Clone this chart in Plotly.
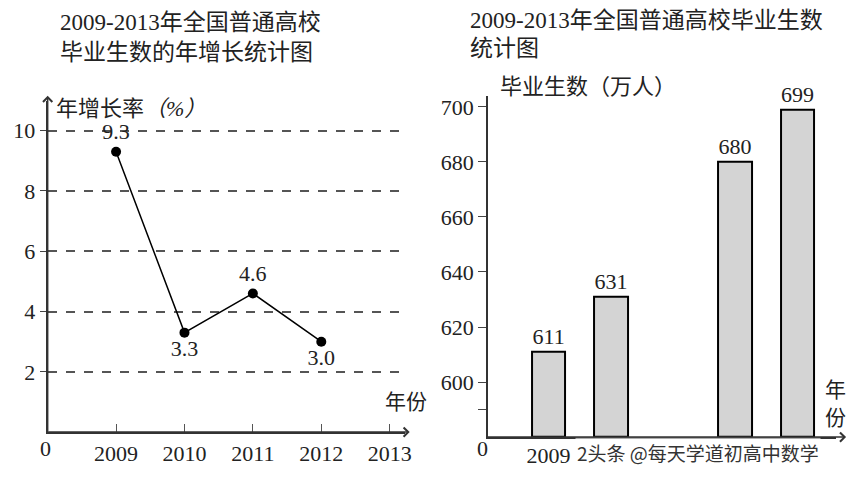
import plotly.graph_objects as go

# left chart: annual growth rate
rate_years = [2009, 2010, 2011, 2012]
rate_values = [9.3, 3.3, 4.6, 3.0]
rate_labels = ["9.3", "3.3", "4.6", "3.0"]
rate_label_pos = ["top center", "bottom center", "top center", "bottom center"]
left_ticks = [2009, 2010, 2011, 2012, 2013]
left_yticks = [2, 4, 6, 8, 10]

# right chart: graduates (10k), axis broken at 580
grad_years = [2009, 2010, 2012, 2013]
grad_values = [611, 631, 680, 699]
grad_base = 580
right_yticks = [590, 600, 620, 640, 660, 680, 700]
right_yticktext = ["", "600", "620", "640", "660", "680", "700"]

FONT = "Liberation Serif, Noto Sans CJK SC"
W, H = 856, 478
DY = 8  # rendering offset correction


def px(x):
    return x / W


def py(y):
    return (H - (y - DY)) / H


fig = go.Figure()

fig.add_trace(go.Scatter(
    x=rate_years, y=rate_values, mode="lines+markers+text",
    text=rate_labels, textposition=rate_label_pos,
    textfont=dict(size=22, color="#222", family=FONT),
    line=dict(color="black", width=1.5),
    marker=dict(color="black", size=10),
    xaxis="x", yaxis="y", showlegend=False, cliponaxis=False,
))

fig.add_trace(go.Bar(
    x=grad_years, y=[v - grad_base for v in grad_values], base=grad_base,
    width=0.54, text=[str(v) for v in grad_values], textposition="outside",
    textfont=dict(size=22, color="#222", family=FONT),
    marker=dict(color="#d4d4d4", line=dict(color="black", width=2)),
    xaxis="x2", yaxis="y2", showlegend=False, cliponaxis=False,
))

axis_font = dict(size=22, color="#222", family=FONT)
fig.update_layout(
    width=W, height=H, margin=dict(l=0, r=0, t=0, b=0),
    plot_bgcolor="white", paper_bgcolor="white",
    font=dict(family=FONT, color="#222"),
    xaxis=dict(domain=[px(40), px(400)], range=[2008, 2013.22],
               tickvals=left_ticks, ticks="inside", ticklen=8,
               tickcolor="#555", showgrid=False, zeroline=False,
               showline=True, linecolor="#333", linewidth=2,
               tickfont=axis_font, anchor="y"),
    yaxis=dict(domain=[py(432), py(100)], range=[0, 10.99],
               tickvals=left_yticks, ticks="outside", ticklen=6,
               showgrid=True, gridcolor="#555", griddash="dash",
               gridwidth=2, zeroline=False, showline=True,
               linecolor="#333", linewidth=2, tickfont=axis_font,
               anchor="x"),
    xaxis2=dict(domain=[px(484), px(835)], range=[2008.03, 2013.62],
                tickvals=[2009], ticktext=["2009"], ticks="",
                ticklabelstandoff=-3,
                showgrid=False, zeroline=False, showline=True,
                linecolor="#333", linewidth=2, tickfont=axis_font,
                anchor="y2"),
    yaxis2=dict(domain=[py(437), py(95)], range=[580, 704],
                tickvals=right_yticks,
                ticktext=right_yticktext, ticks="outside", ticklen=8,
                showgrid=False, zeroline=False, showline=True,
                linecolor="#333", linewidth=2, tickfont=axis_font,
                anchor="x2"),
    bargap=0,
)

ann = [
    dict(x=50, y=22, text="2009-2013年全国普通高校", size=23),
    dict(x=50, y=52, text="毕业生数的年增长统计图", size=23),
    dict(x=464, y=20, text="2009-2013年全国普通高校毕业生数", size=23),
    dict(x=464, y=48, text="统计图", size=23),
    dict(x=46, y=108, text="年增长率<i>（%）</i>", size=22),
    dict(x=494, y=86, text="毕业生数（万人）", size=22),
    dict(x=378, y=402, text="年份", size=21),
    dict(x=822, y=390, text="年", size=21),
    dict(x=822, y=418, text="份", size=21),
    dict(x=30, y=448, text="0", size=22),
    dict(x=471, y=448, text="0", size=22),
]
for a in ann:
    fig.add_annotation(x=px(a["x"]), y=py(a["y"]), xref="paper", yref="paper",
                       text=a["text"], showarrow=False, xanchor="left",
                       yanchor="middle",
                       font=dict(size=a["size"], color="#222", family=FONT))

# watermark over right x labels
fig.add_annotation(x=px(572), y=py(452), xref="paper", yref="paper",
                   text="2头条 @每天学道初高中数学", showarrow=False,
                   xanchor="left", yanchor="middle",
                   bgcolor="rgba(255,255,255,0.6)",
                   font=dict(size=19, color="#333", family="Noto Sans CJK SC"))

# axis arrows (pixel coordinates of tail and head)
arrows = [(40, 432, 405, 432), (40, 432, 40, 95), (484, 437, 845, 437)]
for x0, y0, x1, y1 in arrows:
    fig.add_annotation(x=px(x1), y=py(y1), xref="paper", yref="paper",
                       ax=x0 - x1, ay=y0 - y1, showarrow=True,
                       arrowhead=4, arrowsize=1.2, arrowwidth=1.5,
                       arrowcolor="#333", text="")

fig.write_html("out.html")
